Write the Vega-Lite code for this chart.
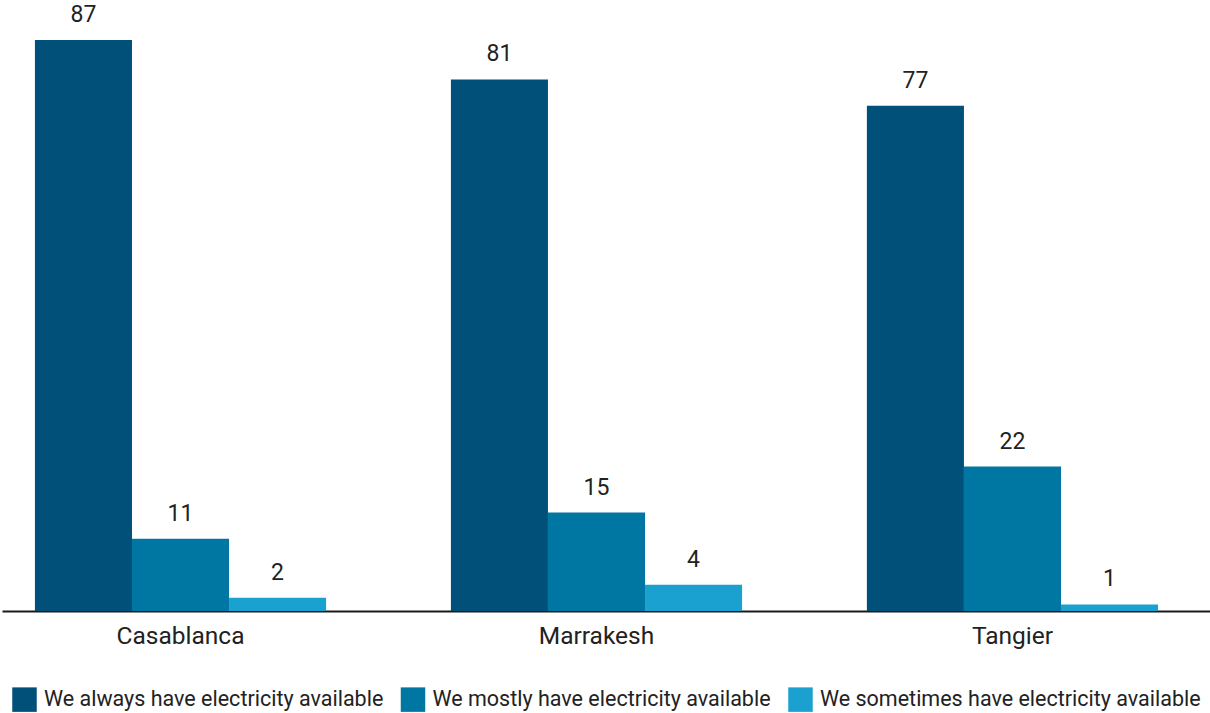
{
  "$schema": "https://vega.github.io/schema/vega-lite/v6.json",
  "autosize": {"type": "none"},
  "width": 1208,
  "height": 571,
  "padding": {"left": 2, "top": 40, "right": 0, "bottom": 102},
  "background": "white",
  "config": {
    "view": {"stroke": null},
    "font": "Roboto",
    "text": {"font": "Roboto"}
  },
  "data": {
    "values": [
      {"city": "Casablanca", "answer": "We always have electricity available", "value": 87},
      {"city": "Casablanca", "answer": "We mostly have electricity available", "value": 11},
      {"city": "Casablanca", "answer": "We sometimes have electricity available", "value": 2},
      {"city": "Marrakesh", "answer": "We always have electricity available", "value": 81},
      {"city": "Marrakesh", "answer": "We mostly have electricity available", "value": 15},
      {"city": "Marrakesh", "answer": "We sometimes have electricity available", "value": 4},
      {"city": "Tangier", "answer": "We always have electricity available", "value": 77},
      {"city": "Tangier", "answer": "We mostly have electricity available", "value": 22},
      {"city": "Tangier", "answer": "We sometimes have electricity available", "value": 1}
    ]
  },
  "encoding": {
    "x": {
      "field": "city", "type": "nominal", "sort": null, "title": null,
      "scale": {"paddingInner": 0.3, "paddingOuter": 0.102, "align": 0.388},
      "axis": {
        "domainColor": "#1a1a1a", "domainWidth": 2, "ticks": false, "grid": false,
        "labelAngle": 0, "labelFont": "Roboto", "labelFontSize": 24.5, "labelColor": "#222222",
        "labelPadding": 13
      }
    },
    "xOffset": {"field": "answer", "type": "nominal", "sort": null},
    "y": {
      "field": "value", "type": "quantitative",
      "scale": {"domain": [0, 87], "nice": false, "zero": true},
      "axis": null
    }
  },
  "layer": [
    {
      "mark": {"type": "bar"},
      "encoding": {
        "color": {
          "field": "answer", "type": "nominal", "sort": null,
          "scale": {
            "domain": ["We always have electricity available", "We mostly have electricity available", "We sometimes have electricity available"],
            "range": ["#01507a", "#0077a2", "#1ba1cf"]
          },
          "legend": {
            "title": null, "orient": "none", "legendX": 10, "legendY": 647,
            "direction": "horizontal", "symbolType": "square", "symbolSize": 600,
            "symbolStrokeWidth": 0, "labelFont": "Roboto", "labelFontSize": 21.5,
            "labelColor": "#222222", "labelOffset": 7, "columnPadding": 16.5,
            "labelLimit": 500
          }
        }
      }
    },
    {
      "mark": {"type": "text", "baseline": "alphabetic", "dy": -18, "fontSize": 23, "color": "#222222", "font": "Roboto"},
      "encoding": {
        "text": {"field": "value", "type": "quantitative"}
      }
    }
  ]
}
